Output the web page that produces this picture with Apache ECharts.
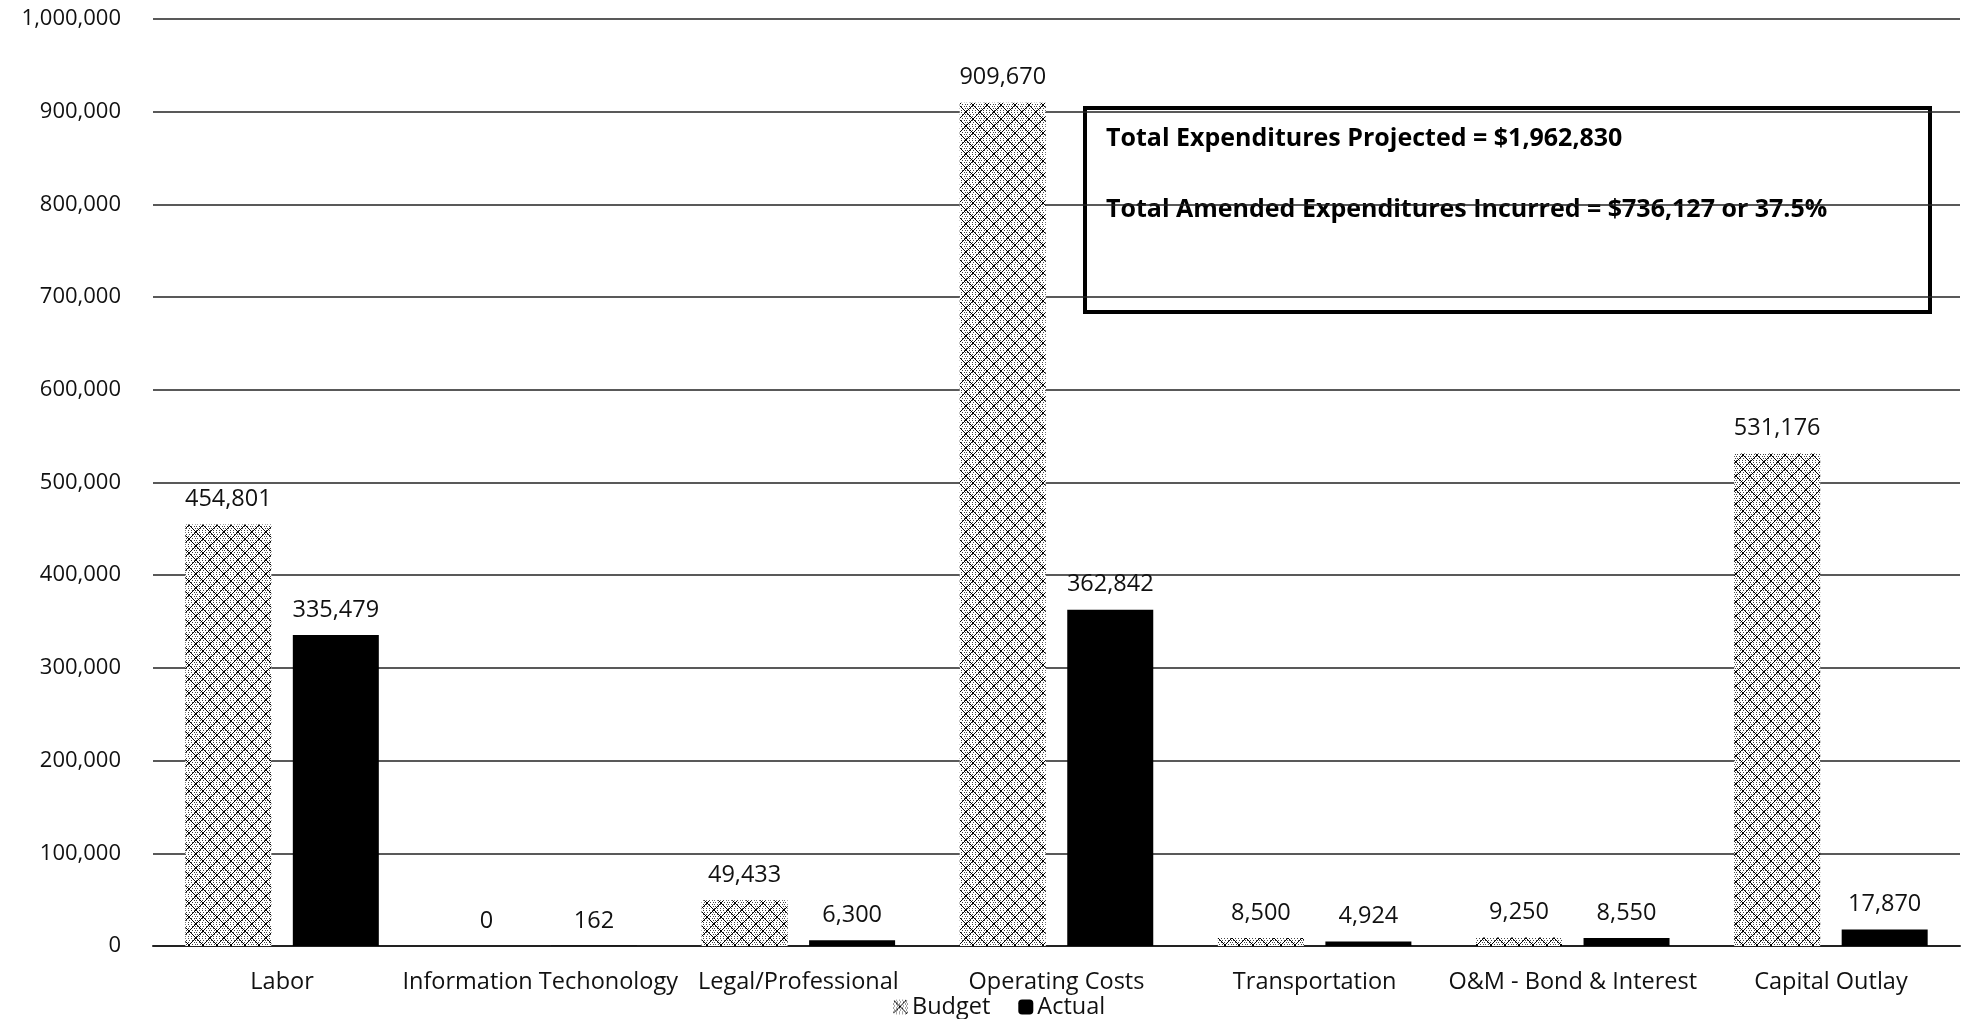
<!DOCTYPE html>
<html>
<head>
<meta charset="utf-8">
<script src="https://cdn.jsdelivr.net/npm/echarts@6/dist/echarts.min.js"></script>
<style>
  html, body { margin: 0; padding: 0; background: #fff; }
  #chart { width: 1974px; height: 1019px; }
</style>
</head>
<body>
<div id="chart"></div>
<script>
// Expenditure categories and values
const categories = ['Labor', 'Information Techonology', 'Legal/Professional', 'Operating Costs', 'Transportation', 'O&M - Bond & Interest', 'Capital Outlay'];
const budget = [454801, 0, 49433, 909670, 8500, 9250, 531176];
const actual = [335479, 162, 6300, 362842, 4924, 8550, 17870];
const yTicks = { min: 0, max: 1000000, interval: 100000 };
const summaryLines = [
  'Total Expenditures Projected = $1,962,830',
  'Total Amended Expenditures Incurred = $736,127 or 37.5%'
];

const FONT = '"Open Sans", Lato, sans-serif';
const TEXT_SIZE = 23.5;
const fmt = v => v.toLocaleString('en-US');

// Cross-hatch over stippled dots for the budget bars
function makeHatch() {
  const s = 14;
  const c = document.createElement('canvas');
  c.width = s; c.height = s;
  const g = c.getContext('2d');
  g.fillStyle = '#fff';
  g.fillRect(0, 0, s, s);
  g.fillStyle = '#444';
  for (let y = 0; y < s; y += 2) {
    for (let x = (y % 4 === 0 ? 0 : 1); x < s; x += 3) {
      g.fillRect(x, y, 1, 1);
    }
  }
  g.strokeStyle = '#000';
  g.lineWidth = 1;
  g.beginPath();
  g.moveTo(0, 0); g.lineTo(s, s);
  g.moveTo(s, 0); g.lineTo(0, s);
  g.moveTo(-s / 2, s / 2); g.lineTo(s / 2, s * 1.5);
  g.moveTo(s / 2, -s / 2); g.lineTo(s * 1.5, s / 2);
  g.moveTo(s / 2, -s / 2); g.lineTo(-s / 2, s / 2);
  g.moveTo(s * 1.5, s / 2); g.lineTo(s / 2, s * 1.5);
  g.stroke();
  return c;
}

const chart = echarts.init(document.getElementById('chart'), null, { renderer: 'canvas' });

const labelStyle = {
  show: true,
  position: 'top',
  distance: 13,
  color: '#111',
  fontFamily: FONT,
  fontSize: TEXT_SIZE,
  formatter: p => fmt(p.value)
};

chart.setOption({
  animation: false,
  backgroundColor: '#fff',
  grid: { left: 153, right: 14, top: 19, bottom: 73, containLabel: false },
  legend: {
    top: 989,
    left: 888,
    itemWidth: 15,
    itemHeight: 15,
    itemGap: 28,
    textStyle: { fontFamily: FONT, fontSize: TEXT_SIZE, lineHeight: 26, color: '#111', padding: [0, 0, 0, -1] },
    data: ['Budget', 'Actual']
  },
  xAxis: {
    type: 'category',
    data: categories,
    axisLine: { show: true, lineStyle: { color: '#222', width: 2 } },
    axisTick: { show: false },
    axisLabel: { color: '#111', fontFamily: FONT, fontSize: TEXT_SIZE, margin: 24, interval: 0 }
  },
  yAxis: {
    type: 'value',
    min: yTicks.min,
    max: yTicks.max,
    interval: yTicks.interval,
    axisLine: { show: false },
    axisTick: { show: false },
    axisLabel: { color: '#111', fontFamily: FONT, fontSize: 22, margin: 32, formatter: v => fmt(v) },
    splitLine: { show: true, lineStyle: { color: '#222', width: 1.5 } }
  },
  series: [
    {
      name: 'Budget',
      type: 'bar',
      data: budget,
      barWidth: 86,
      barGap: '25%',
      itemStyle: { color: { image: makeHatch(), repeat: 'repeat' } },
      label: labelStyle
    },
    {
      name: 'Actual',
      type: 'bar',
      data: actual,
      barWidth: 86,
      barGap: '25%',
      itemStyle: { color: '#000' },
      label: labelStyle
    }
  ],
  graphic: [
    {
      type: 'group',
      left: 1083,
      top: 106,
      children: [
        { type: 'rect', shape: { x: 0, y: 0, width: 845, height: 204 },
          style: { fill: '#fff', stroke: '#000', lineWidth: 4 } },
        { type: 'text', x: 21, y: 31,
          style: { text: summaryLines[0], font: 'bold 25px ' + FONT, fill: '#000', verticalAlign: 'middle' } },
        { type: 'text', x: 21, y: 102,
          style: { text: summaryLines[1], font: 'bold 25px ' + FONT, fill: '#000', verticalAlign: 'middle' } }
      ]
    }
  ]
});
</script>
</body>
</html>
